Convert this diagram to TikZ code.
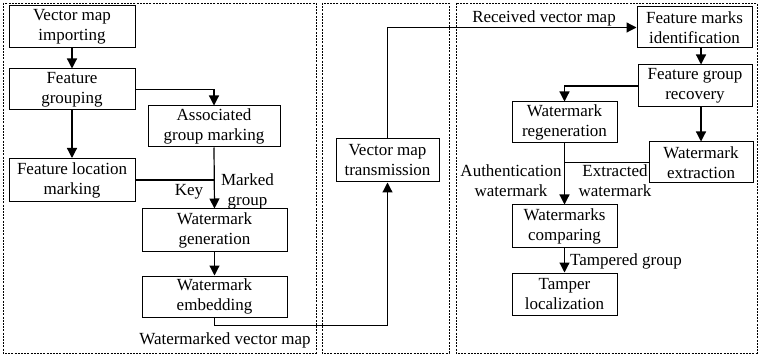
\documentclass[tikz,border=0pt]{standalone}
\usepackage{fontspec}
\setmainfont{Liberation Serif}
\usetikzlibrary{arrows.meta,calc}
\begin{document}
\begin{tikzpicture}[x=1pt,y=-1pt,
  font=\fontsize{17}{20}\selectfont,
  blk/.style={draw,line width=1pt,rectangle,align=center,inner sep=0pt},
  arr/.style={line width=1.2pt,-{Triangle[width=10pt,length=10pt]}},
  ln/.style={line width=1.2pt},
  panel/.style={draw,line width=0.6pt,dash pattern=on 2pt off 1.2pt},
  lbl/.style={inner sep=0pt,align=center}]
\useasboundingbox (0,0) rectangle (760,358);

% dashed panels
\draw[panel] (3,3) rectangle (316,353);
\draw[panel] (322,3) rectangle (449,353);
\draw[panel] (456,3) rectangle (757,353);

% embedding side
\node[blk,minimum width=126pt,minimum height=42pt] (imp) at (72,27) {Vector map\\importing};
\node[blk,minimum width=126pt,minimum height=41pt] (grp) at (72,89.5) {Feature\\grouping};
\node[blk,minimum width=132pt,minimum height=41pt] (assoc) at (214,126.5) {Associated\\group marking};
\node[blk,minimum width=126pt,minimum height=43pt] (loc) at (72,180) {Feature location\\marking};
\node[blk,minimum width=145pt,minimum height=42pt] (gen) at (214.5,230) {Watermark\\generation};
\node[blk,minimum width=145pt,minimum height=41pt] (emb) at (214.5,296.5) {Watermark\\embedding};

% transmission
\node[blk,minimum width=103pt,minimum height=43pt] (trans) at (387.5,160.5) {Vector map\\transmission};

% authentication side
\node[blk,minimum width=115pt,minimum height=41pt] (fmi) at (694.5,27.5) {Feature marks\\identification};
\node[blk,minimum width=114pt,minimum height=42pt] (fgr) at (695,86) {Feature group\\recovery};
\node[blk,minimum width=105pt,minimum height=41pt] (regen) at (564.5,122.5) {Watermark\\regeneration};
\node[blk,minimum width=104pt,minimum height=41pt] (extr) at (701,162.5) {Watermark\\extraction};
\node[blk,minimum width=105pt,minimum height=42pt] (comp) at (564.5,226) {Watermarks\\comparing};
\node[blk,minimum width=105pt,minimum height=42pt] (tamp) at (564.5,294) {Tamper\\localization};

% connectors: embedding
\draw[arr] (imp.south) -- (grp.north);
\draw[arr] (grp.east) -| (assoc.north);
\draw[arr] (grp.south) -- (loc.north);
\draw[arr] (assoc.south) -- (gen.north);
\coordinate (keyj) at (assoc.south |- loc.east);
\draw[ln] (loc.east) -- (keyj);
\draw[arr] (gen.south) -- (emb.north);
\coordinate (embout) at ($(emb.south)+(0,8)$);
\draw[arr] (emb.south) -- (embout) -| (trans.south);
\draw[arr] (trans.north) |- (fmi.west);

% connectors: authentication
\draw[arr] (fmi.south -| extr.north) -- (fgr.north -| extr.north);
\draw[arr] (fgr.west) -| (regen.north);
\draw[arr] (fgr.south -| extr.north) -- (extr.north);
\draw[arr] (regen.south) -- (comp.north);
\coordinate (extj) at (regen.south |- extr.west);
\draw[ln] (extr.west) -- (extj);
\draw[arr] (comp.south) -- (tamp.north);

% labels
\node[lbl] (lkey) at (189,192) {Key};
\node[lbl] (lmark) at (247.5,191) {Marked\\group};
\node[lbl] (lwvm) at (225,340) {Watermarked vector map};
\node[lbl] (lrvm) at (544,18) {Received vector map};
\node[lbl] (lauth) at (511,181) {Authentication\\watermark};
\node[lbl] (lextr) at (615,181) {Extracted\\watermark};
\node[lbl] (ltg) at (626,261) {Tampered group};
\end{tikzpicture}
\end{document}
